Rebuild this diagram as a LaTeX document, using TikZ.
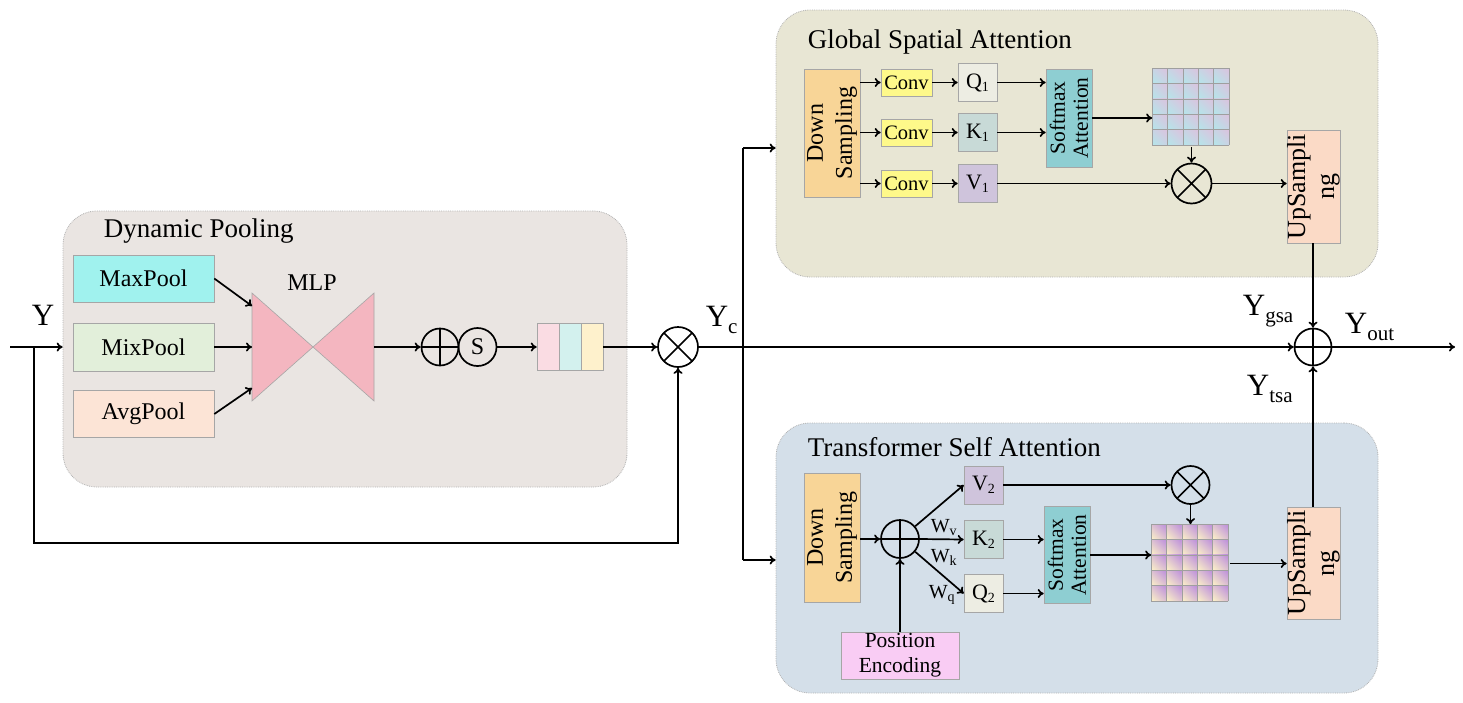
\documentclass[tikz,border=0pt]{standalone}
\usepackage{fontspec}
\setmainfont{Liberation Serif}
\usetikzlibrary{arrows.meta,calc,shadings}

\definecolor{dpbg}{HTML}{EAE5E2}
\definecolor{gsabg}{HTML}{E8E6D4}
\definecolor{tsabg}{HTML}{D4DFE9}
\definecolor{maxc}{HTML}{A0F2EE}
\definecolor{mixc}{HTML}{E2EFDA}
\definecolor{avgc}{HTML}{FCE4D6}
\definecolor{mlpc}{HTML}{F4B6C0}
\definecolor{stA}{HTML}{FADCE3}
\definecolor{stB}{HTML}{D3F1EE}
\definecolor{stC}{HTML}{FEF1CC}
\definecolor{dsc}{HTML}{F8D597}
\definecolor{convc}{HTML}{FEF98A}
\definecolor{qc}{HTML}{EDEDE3}
\definecolor{kc}{HTML}{C8DAD7}
\definecolor{vc}{HTML}{CFC4DC}
\definecolor{smc}{HTML}{8ECED2}
\definecolor{upc}{HTML}{FBDAC6}
\definecolor{pec}{HTML}{F9CCF4}
\definecolor{gmA}{HTML}{B4E6EA}
\definecolor{gmB}{HTML}{DCC2DE}
\definecolor{tmA}{HTML}{FEF4C6}
\definecolor{tmB}{HTML}{BB8CDD}

\newcommand{\lsub}[1]{\raisebox{-3pt}{\fontsize{14}{14}\selectfont #1}}
\newcommand{\ysub}[1]{\raisebox{-7pt}{\fontsize{21}{21}\selectfont #1}}

% 5x5 attention map inside a node
\newcommand{\attnmap}[3]{%
  \foreach \i in {0,...,4}{%
    \foreach \j in {0,...,4}{%
      \shade[lower left=#2, upper right=#3, upper left=#2!50!#3, lower right=#2!50!#3]
        ($(#1.north west)+(\i*15.4,\j*15.4)$) rectangle ++(15.4,15.4);
    }}%
  \foreach \k in {0,...,5}{%
    \draw[gray!75, line width=0.8pt] ($(#1.north west)+(\k*15.4,0)$) -- ++(0,77);
    \draw[gray!75, line width=0.8pt] ($(#1.north west)+(0,\k*15.4)$) -- ++(77,0);
  }%
}

\tikzset{
  grp/.style={draw=gray!60, densely dotted, line width=0.8pt, rounded corners=34pt, inner sep=0pt},
  ttl/.style={anchor=base west, inner sep=0pt, font=\fontsize{27}{30}\selectfont},
  blk/.style={draw=gray!70, line width=0.6pt, inner sep=0pt, align=center},
  pool/.style={blk, minimum width=141, minimum height=47, font=\fontsize{24}{28}\selectfont},
  convb/.style={blk, fill=convc, minimum width=51, minimum height=27, font=\fontsize{20.5}{22}\selectfont},
  qkv/.style={blk, minimum width=39, minimum height=38, font=\fontsize{22}{24}\selectfont},
  dsbox/.style={blk, fill=dsc, minimum width=56, minimum height=128},
  smbox/.style={blk, fill=smc, minimum width=46, minimum height=98},
  upbox/.style={blk, fill=upc, minimum width=53, minimum height=113},
  vtext/.style={rotate=90, align=center, inner sep=0pt},
  op/.style={circle, draw, line width=1.7pt, inner sep=0pt, minimum size=40},
  otimes/.style={op, path picture={\draw[line width=1.7pt]
      (path picture bounding box.north west) -- (path picture bounding box.south east)
      (path picture bounding box.north east) -- (path picture bounding box.south west);}},
  oplus/.style={op, path picture={\draw[line width=1.7pt]
      (path picture bounding box.north) -- (path picture bounding box.south)
      (path picture bounding box.west) -- (path picture bounding box.east);}},
  ylab/.style={anchor=base west, inner sep=0pt, font=\fontsize{31}{31}\selectfont},
  wlab/.style={anchor=base west, inner sep=0pt, font=\fontsize{20}{20}\selectfont},
}

\begin{document}
\begin{tikzpicture}[x=1pt, y=-1pt, line width=1.7pt, >={To[length=6pt,width=9pt]}]
  \useasboundingbox (0,0) rectangle (1463,702);

  % groups
  \node[grp, fill=dpbg, minimum width=564, minimum height=276] (dp) at (345,349) {};
  \node[grp, fill=gsabg, minimum width=602, minimum height=267] (gsa) at (1077,143.5) {};
  \node[grp, fill=tsabg, minimum width=602, minimum height=270] (tsa) at (1077,558) {};
  \node[ttl] (dpname) at (103,237) {Dynamic Pooling};
  \node[ttl] (gsaname) at (807,48) {Global Spatial Attention};
  \node[ttl] (tsaname) at (807,456) {Transformer Self Attention};

  % dynamic pooling
  \node[pool, fill=maxc] (maxp) at (143.5,278.5) {MaxPool};
  \node[pool, fill=mixc, minimum height=48] (mixp) at (143.5,347) {MixPool};
  \node[pool, fill=avgc] (avgp) at (143.5,414) {AvgPool};
  \filldraw[fill=mlpc, draw=gray!70, line width=0.6pt] (252,293) -- (313,347) -- (252,401) -- cycle;
  \filldraw[fill=mlpc, draw=gray!70, line width=0.6pt] (374,293) -- (313,347) -- (374,401) -- cycle;
  \coordinate (mlpA) at (252,306);
  \coordinate (mlpB) at (252,347);
  \coordinate (mlpC) at (252,388);
  \coordinate (mlpout) at (374,347);
  \node[font=\fontsize{24}{24}\selectfont] (mlpname) at (312,283) {MLP};
  \node[oplus, minimum size=37] (sum1) at (440,347) {};
  \node[op, minimum size=38, font=\fontsize{24}{24}\selectfont] (sig) at (477.5,347) {S};
  \node[blk, fill=stA, minimum width=22, minimum height=47] (st1) at (548,347) {};
  \node[blk, fill=stB, minimum width=22, minimum height=47] (st2) at (570,347) {};
  \node[blk, fill=stC, minimum width=22, minimum height=47] (st3) at (592,347) {};
  \node[otimes] (mul1) at (678,347) {};

  \draw[->] (maxp.east) -- (mlpA);
  \draw[->] (mixp.east) -- (mlpB);
  \draw[->] (avgp.east) -- (mlpC);
  \draw[->] (mlpout) -- (sum1.west);
  \draw[->] (sig.east) -- (st1.west);
  \draw[->] (st3.east) -- (mul1.west);

  % input and skip
  \node[ylab] (ylabel) at (31,325) {Y};
  \coordinate (yin) at (10,347);
  \coordinate (fork) at (34,347);
  \coordinate (loop) at (34,543);
  \draw[->] (yin) -- (dp.west |- yin);
  \draw[->] (fork) -- (loop) -| (mul1.south);

  % main line
  \node[ylab] (yclabel) at (705,326) {Y\ysub{c}};
  \node[oplus, minimum size=37] (add) at (1313,347) {};
  \coordinate (topturn) at (743,148);
  \coordinate (botturn) at (743,560);
  \coordinate (yout) at (1455,347);
  \draw[->] (mul1.east) -- (add.west);
  \draw (topturn) -- (botturn);
  \draw[->] (topturn) -- (topturn -| gsa.west);
  \draw[->] (botturn) -- (botturn -| tsa.west);
  \draw[->] (add.east) -- (yout);
  \node[ylab] (ygsa) at (1242,315) {Y\ysub{gsa}};
  \node[ylab] (ytsa) at (1246,395) {Y\ysub{tsa}};
  \node[ylab] (youtlabel) at (1344,333) {Y\ysub{out}};

  % global spatial attention
  \node[dsbox] (ds1) at (832,133) {};
  \node[vtext, font=\fontsize{24}{29}\selectfont] (ds1txt) at (ds1) {Down\\Sampling};
  \node[convb] (cv1) at (906.5,82.5) {Conv};
  \node[convb] (cv2) at (906.5,132.5) {Conv};
  \node[convb] (cv3) at (906.5,183.5) {Conv};
  \node[qkv, fill=qc] (q1) at (977.5,82.5) {Q\lsub{1}};
  \node[qkv, fill=kc] (k1) at (977.5,132.5) {K\lsub{1}};
  \node[qkv, fill=vc] (v1) at (977.5,183.5) {V\lsub{1}};
  \node[smbox] (sm1) at (1069,118) {};
  \node[vtext, font=\fontsize{21.5}{23}\selectfont] (sm1txt) at (sm1) {Softmax\\Attention};
  \node[minimum size=77, inner sep=0pt] (gmap1) at (1191.5,107.5) {};
  \attnmap{gmap1}{gmA}{gmB}
  \node[otimes] (mul2) at (1191.5,183.5) {};
  \node[upbox] (up1) at (1313.5,186.5) {};
  \node[vtext, font=\fontsize{26}{29}\selectfont] (up1txt) at (up1) {UpSampli\\ng};

  \foreach \c in {cv1,cv2,cv3}
    \draw[->] (ds1.east |- \c) -- (\c.west);
  \draw[->] (cv1) -- (q1);
  \draw[->] (cv2) -- (k1);
  \draw[->] (cv3) -- (v1);
  \draw[->] (q1.east) -- (q1 -| sm1.west);
  \draw[->] (k1.east) -- (k1 -| sm1.west);
  \draw[->] (sm1.east) -- (sm1.east -| gmap1.west);
  \draw[->] (gmap1.south) -- (mul2.north);
  \draw[->] (v1.east) -- (mul2.west);
  \draw[->] (mul2.east) -- (mul2 -| up1.west);
  \draw[->] (up1.south -| add) -- (add.north);

  % transformer self attention
  \node[dsbox, minimum height=129] (ds2) at (832,537.5) {};
  \node[vtext, font=\fontsize{24}{29}\selectfont] (ds2txt) at (ds2) {Down\\Sampling};
  \node[oplus, minimum size=38] (sum2) at (900,539) {};
  \node[blk, fill=pec, minimum width=118, minimum height=47, font=\fontsize{21.5}{25}\selectfont] (pe) at (900,655.5) {Position\\Encoding};
  \node[qkv, fill=vc] (v2) at (983.5,485) {V\lsub{2}};
  \node[qkv, fill=kc] (k2) at (983.5,539.5) {K\lsub{2}};
  \node[qkv, fill=qc] (q2) at (983.5,593.5) {Q\lsub{2}};
  \node[wlab] (wv) at (930,532) {W\lsub{v}};
  \node[wlab] (wk) at (930,562) {W\lsub{k}};
  \node[wlab] (wq) at (928,598) {W\lsub{q}};
  \node[smbox, minimum height=97] (sm2) at (1067,555) {};
  \node[vtext, font=\fontsize{21.5}{23}\selectfont] (sm2txt) at (sm2) {Softmax\\Attention};
  \node[otimes, minimum size=38] (mul3) at (1190.5,485) {};
  \node[minimum size=77, inner sep=0pt] (gmap2) at (1190.5,563.5) {};
  \attnmap{gmap2}{tmA}{tmB}
  \node[upbox, minimum height=112] (up2) at (1313.5,563) {};
  \node[vtext, font=\fontsize{26}{29}\selectfont] (up2txt) at (up2) {UpSampli\\ng};

  \draw[->] (ds2.east |- sum2) -- (sum2.west);
  \draw[->] (pe.north) -- (sum2.south);
  \draw[->] (sum2.40) -- (v2.west);
  \draw[->] (sum2.east) -- (k2.west);
  \draw[->] (sum2.-40) -- (q2.west);
  \draw[->] (v2.east) -- (mul3.west);
  \draw[->] (k2.east) -- (k2 -| sm2.west);
  \draw[->] (q2.east) -- (q2 -| sm2.west);
  \draw[->] (sm2.east) -- (sm2.east -| gmap2.west);
  \draw[->] (mul3.south) -- (gmap2.north);
  \draw[->] (gmap2.east) -- (gmap2.east -| up2.west);
  \draw[->] (up2.north -| add) -- (add.south);
\end{tikzpicture}
\end{document}
